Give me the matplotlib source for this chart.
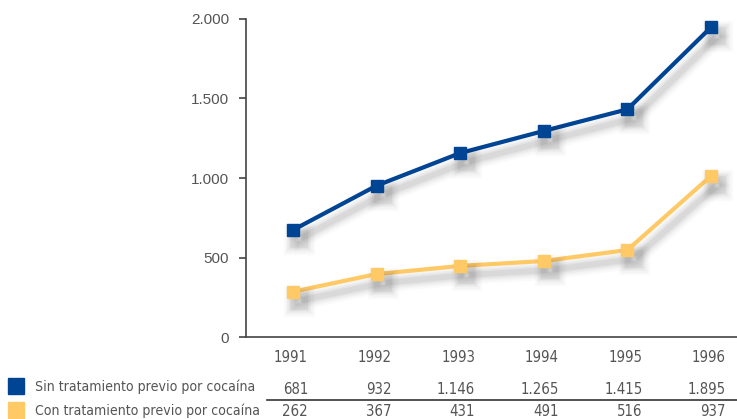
import matplotlib
matplotlib.use("Agg")
import matplotlib.pyplot as plt
import matplotlib.patheffects as pe
import matplotlib.transforms as mtransforms
from matplotlib.ticker import FuncFormatter
from matplotlib import font_manager

years = [1991, 1992, 1993, 1994, 1995, 1996]
series_names = ["Sin tratamiento previo por cocaína", "Con tratamiento previo por cocaína"]
# values as plotted in the chart
sin_plot = [673, 952, 1157, 1296, 1432, 1948]
con_plot = [285, 396, 447, 478, 547, 1013]
# values as printed in the table
sin_table = ["681", "932", "1.146", "1.265", "1.415", "1.895"]
con_table = ["262", "367", "431", "491", "516", "937"]
yticks = [0, 500, 1000, 1500, 2000]

blue = "#004494"
yellow = "#FFC966"
gray = "#555555"
regular = ["Liberation Sans", "DejaVu Sans"]

W, H = 737, 419
fig = plt.figure(figsize=(W / 100, H / 100), dpi=100)
ax = fig.add_axes([246 / W, 1 - 337 / H, 1 - 246 / W, (337 - 19) / H])
renderer = fig.canvas.get_renderer()

def fitted(text, target_px, base=12, cap=12.5):
    p = font_manager.FontProperties(family="DejaVu Sans", stretch="condensed", size=base)
    probe = fig.text(0, 0, text, fontproperties=p)
    w = probe.get_window_extent(renderer).width
    probe.remove()
    return font_manager.FontProperties(family="DejaVu Sans", stretch="condensed",
                                       size=min(cap, base * target_px / w))

fp_label = fitted(series_names[0], 219)
fp_num = fitted("1.146", 38)

def shadow():
    effects = []
    for lw, a in [(14, 0.018), (11, 0.022), (8.5, 0.03), (6, 0.035), (4, 0.045)]:
        effects.append(pe.SimpleLineShadow(offset=(4.5, -6.5), shadow_color="black",
                                           alpha=a, linewidth=lw))
    effects.append(pe.Normal())
    return effects

for vals, col in [(sin_plot, blue), (con_plot, yellow)]:
    ax.plot(years, vals, color=col, lw=3, marker="s", ms=8.5, mec=col, mfc=col,
            solid_joinstyle="round", path_effects=shadow(), zorder=3)

ax.set_xlim(1991 - 47 / 83.6, 1996 + 26 / 83.6)
ax.set_ylim(0, 2000)
ax.set_yticks(yticks)
ax.yaxis.set_major_formatter(FuncFormatter(lambda v, p: f"{int(v):,}".replace(",", ".")))
ax.set_xticks([])
for s in ["top", "right"]:
    ax.spines[s].set_visible(False)
for s in ["left", "bottom"]:
    ax.spines[s].set_color("#444444")
    ax.spines[s].set_linewidth(1.2)
ax.tick_params(axis="y", direction="out", length=5, width=1.2, color="#444444",
               labelcolor=gray, labelsize=11, pad=7)
for lab in ax.get_yticklabels():
    lab.set_family(regular)

trans = mtransforms.blended_transform_factory(ax.transData, fig.transFigure)
dx = 0.18
for i, y in enumerate(years):
    ax.text(y + dx, 1 - 357 / H, str(y), transform=trans, ha="right", va="center",
            color=gray, fontproperties=fp_num)
    ax.text(y + dx, 1 - 389 / H, sin_table[i], transform=trans, ha="right", va="center",
            color=gray, fontproperties=fp_num)
    ax.text(y + dx, 1 - 411 / H, con_table[i], transform=trans, ha="right", va="center",
            color=gray, fontproperties=fp_num)

# legend squares and labels
for row_y, col, name in [(386, blue, series_names[0]), (410, yellow, series_names[1])]:
    fig.patches.append(plt.Rectangle((8 / W, 1 - (row_y + 8) / H), 16 / W, 16 / H,
                                     transform=fig.transFigure, color=col))
    fig.text(35 / W, 1 - (row_y + 1) / H, name, ha="left", va="center",
             color=gray, fontproperties=fp_label)

fig.add_artist(plt.Line2D([267 / W, 1.0], [1 - 399.5 / H, 1 - 399.5 / H],
                          transform=fig.transFigure, color="#333333", lw=1.2))

fig.savefig("out.png", dpi=100)
